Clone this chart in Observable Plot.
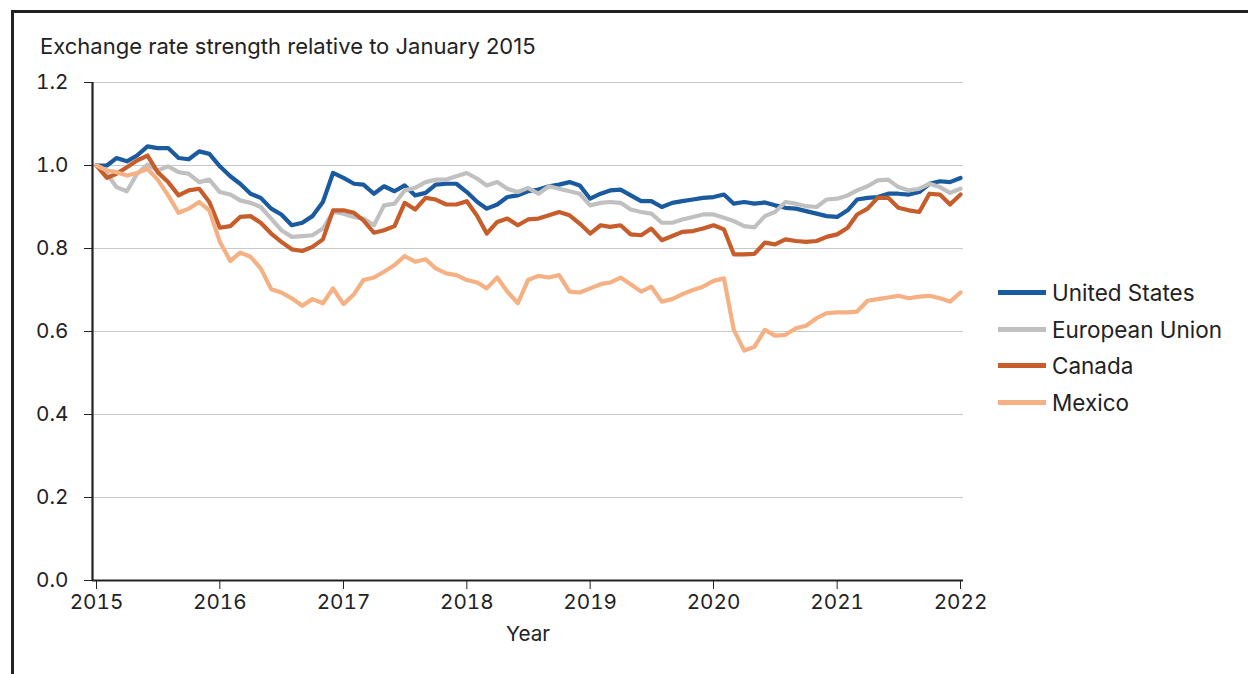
<!DOCTYPE html>
<html>
<head>
<meta charset="utf-8">
<script src="https://cdn.jsdelivr.net/npm/d3@7"></script>
<script src="https://cdn.jsdelivr.net/npm/@observablehq/plot@0.6"></script>
<style>
  body { margin: 0; background: #fff; }
  #wrap { position: relative; width: 1248px; height: 674px; overflow: hidden; background: #fff; font-family: Inter, Roboto, sans-serif; color: #222; }
  #frame { position: absolute; left: 11px; top: 10px; width: 1260px; height: 700px; border-left: 3px solid #222; border-top: 3px solid #222; }
  #title { position: absolute; left: 40px; top: 33px; font-size: 22px; white-space: nowrap; }
  #chart { position: absolute; left: 0; top: 0; }
  #legend { position: absolute; left: 998px; top: 274px; }
  .row { display: flex; align-items: center; height: 36.7px; font-size: 22.5px; }
  .sw { width: 48px; height: 5px; margin-right: 6px; }
</style>
</head>
<body>
<div id="wrap">
  <div id="frame"></div>
  <div id="title">Exchange rate strength relative to January 2015</div>
  <div id="chart"></div>
  <div id="legend"></div>
</div>
<script>
const seriesNames = ["United States", "European Union", "Canada", "Mexico"];
const seriesColors = ["#1a5a9e", "#c0c0c0", "#c65d2a", "#f5b183"];
const startYear = 2015;
const yearTicks = [2015, 2016, 2017, 2018, 2019, 2020, 2021, 2022];
const yTicks = [0, 0.2, 0.4, 0.6, 0.8, 1.0, 1.2];

const unitedStates = [1.000,1.000,1.018,1.010,1.024,1.046,1.042,1.042,1.018,1.015,1.034,1.028,
  0.998,0.974,0.956,0.932,0.922,0.896,0.882,0.856,0.862,0.878,0.912,0.982,
  0.970,0.956,0.954,0.932,0.950,0.938,0.952,0.928,0.934,0.954,0.956,0.956,
  0.936,0.912,0.896,0.906,0.924,0.928,0.938,0.942,0.950,0.954,0.960,0.952,
  0.920,0.932,0.940,0.942,0.928,0.914,0.914,0.900,0.910,0.914,0.918,0.922,
  0.924,0.930,0.908,0.912,0.908,0.911,0.904,0.898,0.896,0.890,0.884,0.878,
  0.876,0.892,0.918,0.922,0.924,0.932,0.932,0.930,0.936,0.956,0.962,0.960,
  0.970];
const europeanUnion = [1.000,0.980,0.948,0.938,0.980,1.002,0.988,0.998,0.984,0.980,0.960,0.966,
  0.936,0.930,0.916,0.910,0.900,0.872,0.844,0.828,0.830,0.832,0.848,0.888,
  0.884,0.876,0.872,0.856,0.904,0.908,0.940,0.946,0.960,0.966,0.966,0.974,
  0.982,0.968,0.952,0.960,0.944,0.936,0.946,0.932,0.950,0.944,0.938,0.932,
  0.904,0.910,0.912,0.910,0.894,0.888,0.884,0.862,0.862,0.870,0.876,0.882,
  0.882,0.874,0.866,0.854,0.851,0.878,0.888,0.912,0.908,0.902,0.900,0.918,
  0.920,0.928,0.940,0.950,0.964,0.966,0.948,0.940,0.944,0.956,0.948,0.934,
  0.944];
const canada = [1.000,0.970,0.980,0.996,1.012,1.024,0.984,0.960,0.928,0.940,0.944,0.912,
  0.850,0.854,0.876,0.878,0.862,0.836,0.816,0.798,0.794,0.804,0.822,0.892,
  0.892,0.886,0.868,0.838,0.844,0.854,0.910,0.894,0.922,0.918,0.906,0.906,
  0.914,0.878,0.836,0.864,0.872,0.856,0.870,0.872,0.880,0.888,0.880,0.860,
  0.836,0.856,0.852,0.856,0.834,0.832,0.848,0.820,0.830,0.840,0.842,0.848,
  0.856,0.846,0.786,0.786,0.787,0.814,0.810,0.822,0.818,0.816,0.818,0.828,
  0.834,0.850,0.882,0.896,0.922,0.922,0.898,0.892,0.888,0.932,0.930,0.906,
  0.930];
const mexico = [1.000,0.988,0.984,0.976,0.982,0.992,0.966,0.928,0.886,0.896,0.912,0.892,
  0.816,0.770,0.790,0.780,0.752,0.702,0.694,0.680,0.662,0.678,0.668,0.704,
  0.666,0.690,0.724,0.730,0.744,0.760,0.782,0.768,0.774,0.752,0.740,0.736,
  0.724,0.718,0.704,0.730,0.696,0.668,0.724,0.734,0.730,0.736,0.696,0.694,
  0.704,0.714,0.718,0.730,0.714,0.696,0.708,0.672,0.678,0.690,0.700,0.708,
  0.722,0.728,0.604,0.554,0.563,0.604,0.590,0.592,0.608,0.614,0.632,0.644,
  0.646,0.646,0.648,0.674,0.678,0.682,0.686,0.680,0.684,0.686,0.680,0.672,
  0.694];

const seriesValues = [unitedStates, europeanUnion, canada, mexico];
const start = new Date(Date.UTC(startYear, 0, 1));
const data = [];
seriesValues.forEach((vals, s) => {
  vals.forEach((v, i) => data.push({series: seriesNames[s], date: d3.utcMonth.offset(start, i), value: v}));
});
const yearDates = yearTicks.map(y => new Date(Date.UTC(y, 0, 1)));

const chart = Plot.plot({
  width: 990,
  height: 674,
  marginLeft: 92,
  marginRight: 27,
  marginTop: 82,
  marginBottom: 94,
  style: {fontFamily: "Inter, Roboto, sans-serif", fontSize: "20.7px", color: "#222", background: "transparent"},
  x: {type: "utc", domain: [yearDates[0], yearDates[yearDates.length - 1]], insetLeft: 4, insetRight: 3},
  y: {domain: [0, 1.2]},
  color: {domain: seriesNames, range: seriesColors},
  marks: [
    Plot.ruleY(yTicks.filter(d => d > 0), {stroke: "#c8c8c8", strokeWidth: 1.2}),
    Plot.axisY({ticks: yTicks, tickFormat: d3.format(".1f"), tickSize: 8, tickPadding: 16, label: null, stroke: "#222", fill: "#222"}),
    Plot.axisX({ticks: yearDates, tickFormat: d3.utcFormat("%Y"), tickSize: 9, tickPadding: 5, label: "Year", labelAnchor: "center", labelOffset: 60, labelArrow: "none", stroke: "#222", fill: "#222"}),
    Plot.lineY(data, {x: "date", y: "value", z: "series", stroke: "series", strokeWidth: 4.2, strokeLinejoin: "round"}),
    Plot.ruleY([0], {stroke: "#222", strokeWidth: 2.2}),
    Plot.ruleX([yearDates[0]], {dx: -4, stroke: "#222", strokeWidth: 2.2})
  ]
});
document.getElementById("chart").appendChild(chart);

const legend = d3.select("#legend");
seriesNames.forEach((name, i) => {
  const row = legend.append("div").attr("class", "row");
  row.append("div").attr("class", "sw").style("background", seriesColors[i]);
  row.append("span").text(name);
});
</script>
</body>
</html>
